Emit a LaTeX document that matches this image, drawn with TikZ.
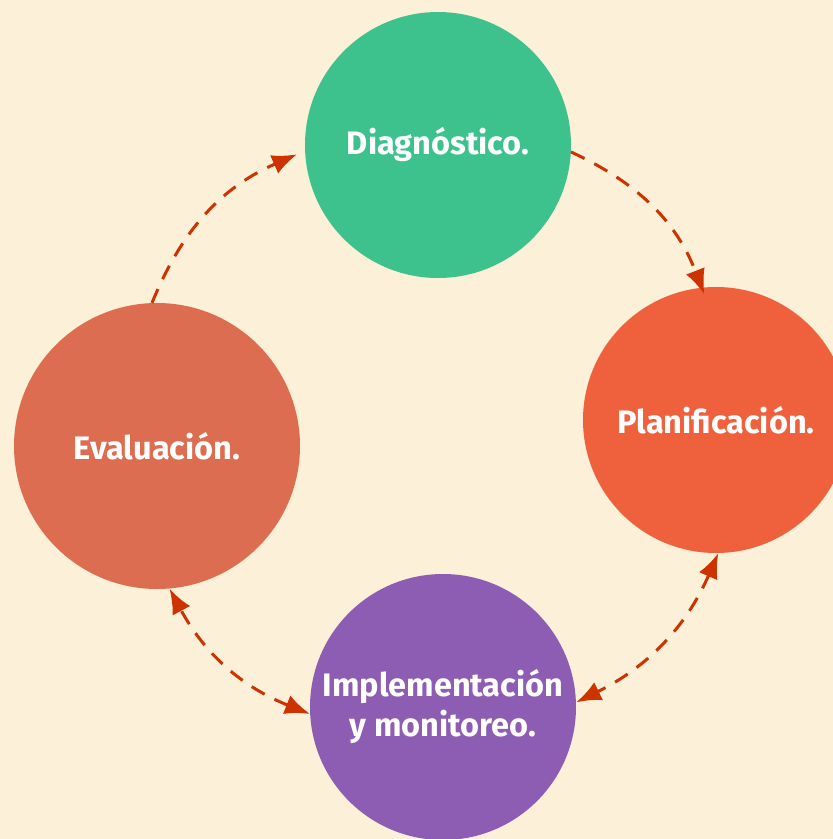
\documentclass[tikz,border=0pt]{standalone}
\usepackage{fontspec}
\setmainfont{Fira Sans}
\usetikzlibrary{arrows.meta}
\definecolor{bgcream}{RGB}{252,240,216}
\definecolor{diaggreen}{RGB}{62,194,141}
\definecolor{planorange}{RGB}{239,97,61}
\definecolor{implpurple}{RGB}{140,93,178}
\definecolor{evalred}{RGB}{220,109,80}
\definecolor{flowred}{RGB}{204,51,0}

\begin{document}
\begin{tikzpicture}[x=1pt,y=-1pt]
          \tikzset{ stage/.style ={circle, inner sep=0pt, text=white, font=\bfseries\fontsize{32.5}{40}\selectfont, align=center} }
          \tikzset{ flow/.style  ={draw=flowred, line width=3pt, dash pattern=on 15pt off 11pt, >={Latex[length=25pt,width=20pt]}} }

          \fill[bgcream] (0,0) rectangle (833,839);
          \useasboundingbox (0,0) rectangle (833,839);

          \node[stage, fill=diaggreen,  minimum size=266pt] (diag) at (438,145) {Diagnóstico.};
          \node[stage, fill=planorange, minimum size=266pt] (plan) at (716,420) {Planificación.};
          \node[stage, fill=implpurple, minimum size=266pt] (impl) at (443,707) {Implementación\\y monitoreo.};
          \node[stage, fill=evalred,    minimum size=286pt] (eval) at (157,446) {Evaluación.};

          \draw[flow, ->]  (diag.-3)  to[bend left=22] ([yshift=-7pt]plan.95);
          \draw[flow, <->] (plan.-89) to[bend left=20] (impl.2);
          \draw[flow, <->] (impl.183) to[bend left=20] (eval.-85);
          \draw[flow, ->]  (eval.92)  to[bend left=22] ([xshift=-8pt]diag.184);
\end{tikzpicture}
\end{document}
